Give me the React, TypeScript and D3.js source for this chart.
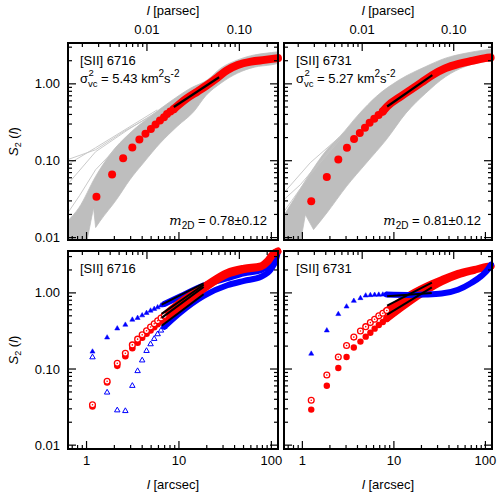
import React from "react";
import * as d3 from "d3";

const W = 498;
const H = 496;
const FONT = "'Liberation Sans', Arial, Helvetica, sans-serif";

// ---------- axis definitions ----------
const X_DOMAIN: [number, number] = [0.63, 118];
const Y_DOMAIN_TOP: [number, number] = [0.0093, 3.4];
const Y_DOMAIN_BOTTOM: [number, number] = [0.0089, 3.55];
const PC_PER_ARCSEC = 0.00222;

const xTicks = [1, 10, 100];
const xTickLabels = ["1", "10", "100"];
const xMinorTicks = [0.7, 0.8, 0.9, 2, 3, 4, 5, 6, 7, 8, 9, 20, 30, 40, 50, 60, 70, 80, 90];
const yTicks = [0.01, 0.1, 1];
const yTickLabels = ["0.01", "0.10", "1.00"];
const yMinorTicks = [0.02, 0.03, 0.04, 0.05, 0.06, 0.07, 0.08, 0.09, 0.2, 0.3, 0.4, 0.5, 0.6, 0.7, 0.8, 0.9, 2, 3];
const pcTicks = [0.01, 0.1];
const pcTickLabels = ["0.01", "0.10"];
const pcMinorTicks = [0.002, 0.003, 0.004, 0.005, 0.006, 0.007, 0.008, 0.009, 0.02, 0.03, 0.04, 0.05, 0.06, 0.07, 0.08, 0.09, 0.2];

const lineNames = ["[SII] 6716", "[SII] 6731"];
const sigmaValues = ["5.43", "5.27"];
const m2dValues = ["0.78±0.12", "0.81±0.12"];

// ---------- top-left panel data ([SII] 6716) ----------
const tlLags = [1.28, 1.89, 2.49, 3.13, 3.73, 4.34, 4.97, 5.58, 6.23, 6.89, 7.43, 8.07, 8.77];
const tlS2 = [0.034, 0.066, 0.108, 0.149, 0.189, 0.224, 0.258, 0.296, 0.334, 0.369, 0.404, 0.437, 0.469];
const tlS2Dense: [number, number][] = [[8.77, 0.469], [12, 0.64], [16, 0.8], [20, 0.955], [26.2, 1.21], [33, 1.5], [43.2, 1.76], [60.4, 1.95], [84.5, 2.05], [118, 2.16]];
const tlFit: [number, number][] = [[8.8, 0.5], [27.2, 1.22]];
const tlBandUpper: [number, number][] = [[0.62, 0.0163], [0.824, 0.0243], [1.254, 0.0625], [1.784, 0.1197], [2.95, 0.229], [4.88, 0.376], [8.07, 0.589], [13.36, 0.879], [20.3, 1.127], [28.4, 1.6], [43.2, 2.05], [65.7, 2.38], [100, 2.55], [122, 2.63]];
const tlBandLower: [number, number][] = [[122, 1.86], [100, 1.77], [65.7, 1.65], [43.2, 1.38], [28.4, 1.02], [19.5, 0.699], [14.5, 0.437], [9.55, 0.279], [6.28, 0.17], [4.12, 0.0933], [2.95, 0.0567], [2.11, 0.0312], [1.387, 0.0161], [1.254, 0.0135]];
const tlBandNotch: [number, number][] = [[1.254, 0.0135], [1.19, 0.0245], [1.0, 0.0085], [0.62, 0.0085]];
const tlStray: [number, number][][] = [
  [[0.62, 0.103], [1.254, 0.139], [2.6, 0.245], [4.88, 0.373]],
  [[0.62, 0.0887], [1.254, 0.1476], [2.81, 0.268], [5.82, 0.459]],
  [[0.62, 0.0488], [1.254, 0.131], [2.81, 0.253], [5.54, 0.42]],
  [[0.62, 0.0205], [0.839, 0.0351], [1.254, 0.0764], [2.02, 0.139]],
];

// ---------- top-right panel data ([SII] 6731) ----------
const trLags = [1.25, 1.85, 2.47, 3.07, 3.67, 4.24, 4.83, 5.43, 6.1, 6.8, 7.56];
const trS2 = [0.0296, 0.0614, 0.104, 0.1476, 0.191, 0.229, 0.268, 0.312, 0.351, 0.392, 0.437];
const trS2Dense: [number, number][] = [[7.56, 0.437], [8.44, 0.507], [12, 0.69], [16, 0.87], [20, 1.04], [26.3, 1.3], [36.7, 1.6], [51.1, 1.82], [71.1, 1.99], [99.3, 2.16], [114, 2.2]];
const trFit: [number, number][] = [[8.44, 0.507], [26.3, 1.3]];
const trBandUpper: [number, number][] = [[0.63, 0.0195], [0.805, 0.0312], [1.22, 0.0692], [1.85, 0.139], [2.57, 0.207], [4.24, 0.416], [6.42, 0.684], [11.47, 1.127], [22.3, 1.68], [36.7, 2.16], [60.3, 2.5], [99.3, 2.76], [114, 2.82]];
const trBandLower: [number, number][] = [[114, 1.99], [99.3, 1.95], [60.3, 1.68], [36.7, 1.24], [22.3, 0.757], [13.55, 0.416], [8.24, 0.187], [5.0, 0.0933], [3.04, 0.0464], [1.85, 0.0209], [1.325, 0.0127]];
const trBandNotch: [number, number][] = [[1.325, 0.0127], [1.078, 0.0199], [0.951, 0.0085], [0.63, 0.0085]];
const trStray: [number, number][][] = [
  [[0.63, 0.0384], [1.22, 0.0942], [2.57, 0.205]],
  [[0.63, 0.0312], [0.951, 0.0488], [2.01, 0.139], [2.57, 0.205]],
  [[0.63, 0.0218], [1.22, 0.0658], [2.57, 0.187]],
];

// ---------- bottom-left panel data ([SII] 6716) ----------
const blLags = [1.16, 1.67, 2.15, 2.63, 3.13, 3.57, 4.0, 4.46, 4.93, 5.4, 5.88, 6.39, 6.94];
const blRedFilled = [0.0323, 0.0664, 0.11, 0.147, 0.188, 0.222, 0.258, 0.29, 0.32, 0.355, 0.388, 0.42, 0.455];
const blRedOpen = [0.034, 0.069, 0.119, 0.161, 0.2075, 0.2467, 0.281, 0.3177, 0.356, 0.393, 0.4306, 0.468, 0.506];
const blBlueFilled = [0.169, 0.259, 0.3406, 0.381, 0.444, 0.468, 0.506, 0.544, 0.584, 0.615, 0.645, 0.68, 0.716];
const blBlueOpen = [0.1428, 0.0492, 0.0287, 0.0281, 0.0602, 0.0941, 0.13, 0.173, 0.212, 0.249, 0.287, 0.3206, 0.359];
const blRedOpenDense: [number, number][] = [[6.94, 0.506], [10.3, 0.75], [18.5, 1.2], [33.4, 1.85], [50.7, 2.11], [77.2, 2.27], [91.3, 2.65], [103.6, 3.24], [117.5, 3.55]];
const blRedFilledDense: [number, number][] = [[6.94, 0.455], [10.3, 0.66], [18.5, 1.12], [33.4, 1.75], [50.7, 2.03], [77.2, 2.2], [91.3, 2.55], [103.6, 3.15], [117.5, 3.5]];
const blBlueFilledDense: [number, number][] = [[6.94, 0.716], [10.3, 0.9], [18.5, 1.25], [33.4, 1.56], [50.7, 1.8], [77.2, 1.99], [99.3, 2.51], [112.5, 3.24], [118, 3.5]];
const blBlueOpenDense: [number, number][] = [[6.94, 0.359], [10.3, 0.55], [18.5, 0.913], [33.4, 1.26], [50.7, 1.44], [77.2, 1.63], [99.3, 2.05], [112.5, 2.78], [118, 3.5]];
const blFits: [number, number][][] = [
  [[6.5, 0.7], [18.5, 1.33]],
  [[6.5, 0.53], [18.5, 1.28]],
  [[6.5, 0.47], [18.5, 1.2]],
  [[6.5, 0.37], [18.5, 0.958]],
];

// ---------- bottom-right panel data ([SII] 6731) ----------
const brLags = [1.25, 1.85, 2.47, 3.04, 3.65, 4.31, 4.92, 5.53, 6.16, 6.84, 7.57, 8.36];
const brBlueFilled = [0.1587, 0.3206, 0.526, 0.661, 0.785, 0.852, 0.922, 0.933, 0.941, 0.945, 0.948, 0.95];
const brRedOpen = [0.0388, 0.0834, 0.1437, 0.204, 0.2626, 0.316, 0.36, 0.407, 0.451, 0.499, 0.541, 0.586];
const brRedFilled = [0.0293, 0.0604, 0.103, 0.1437, 0.192, 0.229, 0.266, 0.3, 0.339, 0.379, 0.415, 0.459];
const brBlueDense: [number, number][] = [[8.36, 0.95], [14.5, 0.94], [21.9, 0.95], [33.2, 0.98], [50.2, 1.1], [70, 1.35], [89.9, 1.66], [106, 2.02], [115, 2.35]];
const brRedOpenDense: [number, number][] = [[8.36, 0.586], [10, 0.67], [14.5, 0.92], [21.9, 1.2], [33.2, 1.49], [50.2, 1.8], [76, 2.03], [106, 2.24], [115, 2.26]];
const brRedFilledDense: [number, number][] = [[8.36, 0.459], [10, 0.54], [14.5, 0.75], [21.9, 1.05], [33.2, 1.4], [50.2, 1.72], [76, 1.98], [106, 2.2], [115, 2.24]];
const brFits: [number, number][][] = [
  [[8.44, 0.905], [25.9, 1.0]],
  [[8.44, 0.68], [26, 1.36]],
  [[8.44, 0.517], [26, 1.18]],
];

// ---------- layout ----------
const COLS = [{ x0: 68, x1: 278 }, { x0: 284, x1: 492 }];
const ROWS = [
  { y0: 43, y1: 240, dom: Y_DOMAIN_TOP },
  { y0: 251, y1: 449, dom: Y_DOMAIN_BOTTOM },
];

const RED = "#ff0000";
const BLUE = "#0000ff";
const GRAY = "#bebebe";

type Sc = { x: d3.ScaleLogarithmic<number, number>; y: d3.ScaleLogarithmic<number, number> };

function makeScales(c: number, r: number): Sc {
  const col = COLS[c];
  const row = ROWS[r];
  return {
    x: d3.scaleLog().domain(X_DOMAIN).range([col.x0, col.x1]),
    y: d3.scaleLog().domain(row.dom).range([row.y1, row.y0]),
  };
}

function pathOf(s: Sc, pts: [number, number][], curve: d3.CurveFactory = d3.curveMonotoneX) {
  return d3.line<[number, number]>().x((d) => s.x(d[0])).y((d) => s.y(d[1])).curve(curve)(pts) || "";
}

function Axes({ c, r }: { c: number; r: number }) {
  const s = makeScales(c, r);
  const col = COLS[c];
  const row = ROWS[r];
  const [xd0, xd1] = X_DOMAIN;
  const inX = (v: number) => v >= xd0 && v <= xd1;
  const inY = (v: number) => v >= row.dom[0] && v <= row.dom[1];
  const MAJ = 8;
  const MIN = 4;
  const els: React.ReactNode[] = [];
  let k = 0;
  xTicks.filter(inX).forEach((v) => {
    const X = s.x(v);
    els.push(<line key={k++} x1={X} x2={X} y1={row.y1} y2={row.y1 - MAJ} />);
  });
  xMinorTicks.filter(inX).forEach((v) => {
    const X = s.x(v);
    els.push(<line key={k++} x1={X} x2={X} y1={row.y1} y2={row.y1 - MIN} />);
  });
  pcTicks.forEach((p) => {
    const a = p / PC_PER_ARCSEC;
    if (!inX(a)) return;
    const X = s.x(a);
    els.push(<line key={k++} x1={X} x2={X} y1={row.y0} y2={row.y0 + MAJ} />);
  });
  pcMinorTicks.forEach((p) => {
    const a = p / PC_PER_ARCSEC;
    if (!inX(a)) return;
    const X = s.x(a);
    els.push(<line key={k++} x1={X} x2={X} y1={row.y0} y2={row.y0 + MIN} />);
  });
  yTicks.filter(inY).forEach((v) => {
    const Y = s.y(v);
    els.push(<line key={k++} x1={col.x0} x2={col.x0 + MAJ} y1={Y} y2={Y} />);
    els.push(<line key={k++} x1={col.x1} x2={col.x1 - MAJ} y1={Y} y2={Y} />);
  });
  yMinorTicks.filter(inY).forEach((v) => {
    const Y = s.y(v);
    els.push(<line key={k++} x1={col.x0} x2={col.x0 + MIN} y1={Y} y2={Y} />);
    els.push(<line key={k++} x1={col.x1} x2={col.x1 - MIN} y1={Y} y2={Y} />);
  });
  return (
    <g>
      <g stroke="#000" strokeWidth={1.2}>{els}</g>
      <rect x={col.x0} y={row.y0} width={col.x1 - col.x0} height={row.y1 - row.y0} fill="none" stroke="#000" strokeWidth={2} />
      {c === 0 &&
        yTicks.filter(inY).map((v, i) => (
          <text key={"yl" + i} x={col.x0 - 8} y={s.y(v)} dy="0.35em" textAnchor="end" fontSize={13}>
            {yTickLabels[yTicks.indexOf(v)]}
          </text>
        ))}
      {r === 1 &&
        xTicks.map((v, i) => (
          <text key={"xl" + i} x={s.x(v)} y={row.y1 + 16} textAnchor="middle" fontSize={13}>
            {xTickLabels[i]}
          </text>
        ))}
      {r === 0 &&
        pcTicks.map((p, i) => (
          <text key={"pl" + i} x={s.x(p / PC_PER_ARCSEC)} y={row.y0 - 9} textAnchor="middle" fontSize={13}>
            {pcTickLabels[i]}
          </text>
        ))}
    </g>
  );
}

function RedDots({ s, xs, ys, r = 4 }: { s: Sc; xs: number[]; ys: number[]; r?: number }) {
  return (
    <g fill={RED}>
      {xs.map((x, i) => (
        <circle key={i} cx={s.x(x)} cy={s.y(ys[i])} r={r} />
      ))}
    </g>
  );
}

function OpenCircles({ s, xs, ys }: { s: Sc; xs: number[]; ys: number[] }) {
  return (
    <g>
      {xs.map((x, i) => (
        <g key={i}>
          <circle cx={s.x(x)} cy={s.y(ys[i])} r={2.9} fill="#fff" stroke={RED} strokeWidth={1.3} />
          <circle cx={s.x(x)} cy={s.y(ys[i])} r={0.8} fill={RED} />
        </g>
      ))}
    </g>
  );
}

function Triangles({ s, xs, ys, filled }: { s: Sc; xs: number[]; ys: number[]; filled: boolean }) {
  const sym = d3.symbol(d3.symbolTriangle, filled ? 11 : 13)() || "";
  return (
    <g>
      {xs.map((x, i) => (
        <path
          key={i}
          d={sym}
          transform={`translate(${s.x(x)},${s.y(ys[i])})`}
          fill={filled ? BLUE : "none"}
          stroke={BLUE}
          strokeWidth={filled ? 0.5 : 1}
        />
      ))}
    </g>
  );
}

function TopPanel({ c }: { c: number }) {
  const s = makeScales(c, 0);
  const col = COLS[c];
  const row = ROWS[0];
  const data =
    c === 0
      ? { lags: tlLags, s2: tlS2, dense: tlS2Dense, fit: tlFit, up: tlBandUpper, lo: tlBandLower, notch: tlBandNotch, stray: tlStray }
      : { lags: trLags, s2: trS2, dense: trS2Dense, fit: trFit, up: trBandUpper, lo: trBandLower, notch: trBandNotch, stray: trStray };
  const upPath = pathOf(s, data.up);
  const loPath = pathOf(s, data.lo).replace(/^M/, "L");
  const notchPath = pathOf(s, data.notch, d3.curveLinear).replace(/^M/, "L");
  const polyPath = upPath + loPath + notchPath + "Z";
  const tx = col.x0 + 12;
  return (
    <g>
      <clipPath id={"clipT" + c}>
        <rect x={col.x0} y={row.y0} width={col.x1 - col.x0} height={row.y1 - row.y0} />
      </clipPath>
      <g clipPath={`url(#clipT${c})`}>
        <path d={polyPath} fill={GRAY} stroke={GRAY} strokeWidth={0.8} />
        {data.stray.map((l, i) => (
          <path key={i} d={pathOf(s, l, d3.curveLinear)} fill="none" stroke="#c4c4c4" strokeWidth={0.9} />
        ))}
      </g>
      <path d={pathOf(s, data.dense)} fill="none" stroke={RED} strokeWidth={8} strokeLinecap="round" strokeLinejoin="round" />
      <RedDots s={s} xs={data.lags} ys={data.s2} r={4} />
      <path d={pathOf(s, data.fit, d3.curveLinear)} fill="none" stroke="#000" strokeWidth={2.2} />
      <text x={tx} y={row.y0 + 22} fontSize={13}>{lineNames[c]}</text>
      <text x={tx} y={row.y0 + 40} fontSize={13}>σ</text>
      <text x={tx + 8.5} y={row.y0 + 33} fontSize={9.5}>2</text>
      <text x={tx + 8} y={row.y0 + 44} fontSize={9.5}>vc</text>
      <text x={tx + 21} y={row.y0 + 40} fontSize={13}>
        = {sigmaValues[c]} km
        <tspan dy={-6} fontSize={10}>2</tspan>
        <tspan dy={6}>s</tspan>
        <tspan dy={-6} fontSize={10}>-2</tspan>
      </text>
      <text x={col.x1 - 11} y={row.y1 - 15} fontSize={13} textAnchor="end">
        <tspan fontStyle="italic" fontFamily="'DejaVu Serif', 'Liberation Serif', serif">m</tspan>
        <tspan dy={4} fontSize={10}>2D</tspan>
        <tspan dy={-4}> = {m2dValues[c]}</tspan>
      </text>
    </g>
  );
}

function BottomPanel({ c }: { c: number }) {
  const s = makeScales(c, 1);
  const col = COLS[c];
  const row = ROWS[1];
  const lineProps = { fill: "none", strokeLinecap: "round" as const, strokeLinejoin: "round" as const };
  return (
    <g>
      {c === 0 ? (
        <g>
          <path d={pathOf(s, blBlueOpenDense)} stroke={BLUE} strokeWidth={6} {...lineProps} />
          <path d={pathOf(s, blBlueFilledDense)} stroke={BLUE} strokeWidth={6} {...lineProps} />
          <path d={pathOf(s, blRedFilledDense)} stroke={RED} strokeWidth={7} {...lineProps} />
          <path d={pathOf(s, blRedOpenDense)} stroke={RED} strokeWidth={7} {...lineProps} />
          <RedDots s={s} xs={blLags} ys={blRedFilled} r={3.3} />
          <OpenCircles s={s} xs={blLags} ys={blRedOpen} />
          <Triangles s={s} xs={blLags} ys={blBlueFilled} filled />
          <Triangles s={s} xs={blLags} ys={blBlueOpen} filled={false} />
          {blFits.map((f, i) => (
            <path key={i} d={pathOf(s, f, d3.curveLinear)} fill="none" stroke="#000" strokeWidth={2} />
          ))}
        </g>
      ) : (
        <g>
          <path d={pathOf(s, brRedFilledDense)} stroke={RED} strokeWidth={7} {...lineProps} />
          <path d={pathOf(s, brRedOpenDense)} stroke={RED} strokeWidth={7} {...lineProps} />
          <path d={pathOf(s, brBlueDense)} stroke={BLUE} strokeWidth={6} {...lineProps} />
          <RedDots s={s} xs={brLags} ys={brRedFilled} r={3.2} />
          <OpenCircles s={s} xs={brLags} ys={brRedOpen} />
          <Triangles s={s} xs={brLags} ys={brBlueFilled} filled />
          {brFits.map((f, i) => (
            <path key={i} d={pathOf(s, f, d3.curveLinear)} fill="none" stroke="#000" strokeWidth={2} />
          ))}
        </g>
      )}
      <text x={col.x0 + 12} y={row.y0 + 22} fontSize={13}>{lineNames[c]}</text>
    </g>
  );
}

export default function App() {
  return (
    <svg width={W} height={H} viewBox={`0 0 ${W} ${H}`} style={{ display: "block", position: "absolute", left: 0, top: 0, background: "#fff" }} fontFamily={FONT}>
      <rect x={0} y={0} width={W} height={H} fill="#fff" />
      <TopPanel c={0} />
      <TopPanel c={1} />
      <BottomPanel c={0} />
      <BottomPanel c={1} />
      {[0, 1].map((c) => [0, 1].map((r) => <Axes key={`${c}${r}`} c={c} r={r} />))}
      {[0, 1].map((c) => {
        const cx = (COLS[c].x0 + COLS[c].x1) / 2;
        return (
          <g key={"lab" + c}>
            <text x={cx} y={15} textAnchor="middle" fontSize={13}>
              <tspan fontStyle="italic">l</tspan> [parsec]
            </text>
            <text x={cx} y={489} textAnchor="middle" fontSize={13}>
              <tspan fontStyle="italic">l</tspan> [arcsec]
            </text>
          </g>
        );
      })}
      {ROWS.map((row, r) => {
        const cy = (row.y0 + row.y1) / 2;
        return (
          <text key={"yl" + r} transform={`translate(18,${cy}) rotate(-90)`} textAnchor="middle" fontSize={13}>
            <tspan fontStyle="italic">S</tspan>
            <tspan dy={3} fontSize={9}>2</tspan>
            <tspan dy={-3}> (</tspan>
            <tspan fontStyle="italic">l</tspan>
            <tspan>)</tspan>
          </text>
        );
      })}
    </svg>
  );
}
